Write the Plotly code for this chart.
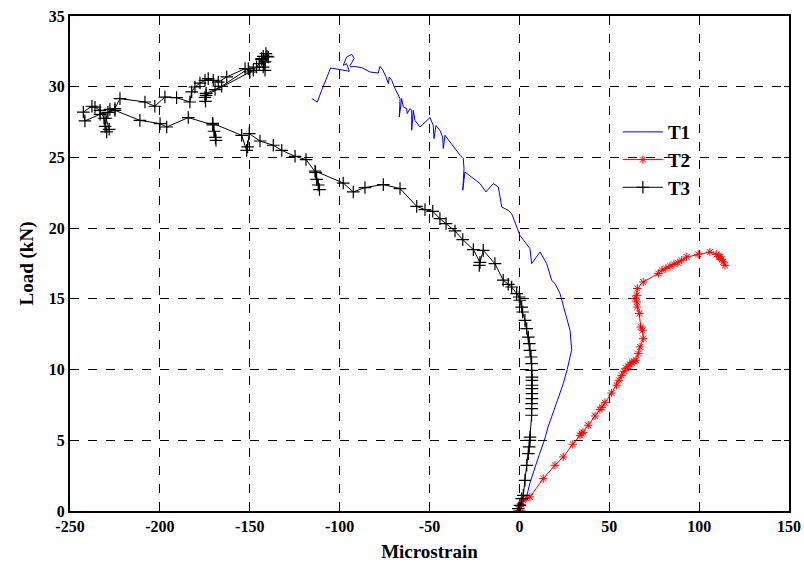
import plotly.graph_objects as go

# T1 (blue line)
t1_x = [0, 4.0, 5.9, 8.3, 11.1, 13.9, 16.1, 18.9, 21.7, 24.4, 26.6, 28.2, 29.1, 28.2, 26.6, 24.4, 22.6, 19.8,
        18.0, 15.2, 11.5, 6.8, 5.9, 0.3, -1.5, -4.3, -6.2, -9.8, -11.7, -14.5, -18.6, -21.9, -30.3, -31.5,
        -30.8, -31.2, -33.0, -39.6, -41.4, -42.3, -42.7, -44.2, -46.4, -47.5, -47.9, -49.7, -55.3, -58.1,
        -59.0, -59.9, -59.9, -60.9, -62.4, -62.7, -64.6, -65.5, -66.8, -66.4, -67.4, -69.2, -71.0, -72.4,
        -72.9, -74.2, -76.1, -77.6, -78.5, -83.1, -87.7, -92.4, -93.9, -94.2, -91.9, -93.3, -96.1, -98.0,
        -96.1, -94.6, -99.8, -105.0, -110.0, -112.4, -115.5]
t1_y = [0, 1, 2, 3, 4, 5, 6, 7, 8, 9, 10, 11, 11.4, 12.77, 13.48, 14.54, 15.37, 16.08,
        16.3, 17.49, 18.31, 17.49, 18.55, 19.49, 20.08, 21.03, 21.26, 21.49, 22.91, 23.15, 22.56, 23.15, 23.97, 22.68,
        24.21, 24.92, 25.15, 26.21, 26.57, 25.62, 26.44, 26.91, 27.26, 26.33, 27.26, 27.82, 27.15, 27.62,
        28.33, 26.92, 28.33, 28.45, 28.10, 28.45, 28.57, 29.16, 27.86, 29.16, 29.39, 29.87, 30.45, 30.69,
        30.22, 30.69, 31.21, 31.44, 30.97, 31.04, 31.35, 31.44, 31.39, 31.51, 31.99, 32.29, 32.10, 31.51,
        31.63, 31.09, 31.21, 31.32, 29.75, 28.92, 29.16]

# T2 (red line with asterisks)
t2_x = [0, -0.6, 0.3, 1.2, 2.2, 3.7, 5.9, 13.3, 19.8, 24.4, 29.7, 33.7, 34.7, 35.4, 38.3, 42.1, 44.8, 45.9,
        47.6, 51.3, 54.1, 55.4, 56.9, 58.2, 59.4, 60.5, 61.5, 62.6, 63.7, 64.9, 66.1, 67.1, 68.9, 68.6,
        67.5, 66.7, 65.6, 65.3, 64.3, 65.3, 65.6, 68.9, 77.3, 79.3, 81.5, 83.8, 86.0, 88.2, 90.3, 93.1,
        99.5, 106.0, 109.8, 111.0, 111.6, 112.7, 113.4, 114.4]
t2_y = [0, 0.17, 0.33, 0.47, 0.76, 0.9, 0.99, 2.29, 3.23, 3.82, 4.72, 5.35, 5.47, 5.56, 6.06, 6.72, 7.17, 7.33,
        7.66, 8.34, 8.89, 9.24, 9.59, 9.88, 10.09, 10.23, 10.37, 10.51, 10.58, 10.66, 11.13, 11.60, 12.19, 12.78,
        13.01, 13.96, 14.42, 14.78, 15.02, 15.25, 15.73, 16.19, 16.79, 17.02, 17.16, 17.30, 17.44, 17.55, 17.73, 17.96,
        18.15, 18.31, 18.15, 17.97, 17.96, 17.80, 17.61, 17.37]

# T3 (black line with plus markers)
t3_x = [0, -0.6, 0.3, 1.3, 2.2, 3.1, 4.1, 5.0, 5.5, 5.9, 5.9, 6.8, 6.8, 6.8, 7.0, 7.0, 7.0, 7.0, 7.0, 7.0,
        6.8, 6.8, 6.5, 5.9, 5.5, 5.0, 4.1, 3.1, 1.8, 1.3, 0.3, -0.1, -1.5, -4.3, -6.2, -9.0, -13.6, -20.1,
        -22.3, -21.9, -25.6, -31.5, -35.8, -40.8, -44.2, -48.2, -52.5, -57.1, -66.4, -75.7, -85.9, -92.4,
        -98.0, -113.7, -112.8, -111.9, -111.2, -113.4, -118.7, -124.8, -132.2, -136.9, -144.3, -150.3,
        -151.2, -151.7, -154.5, -170.6, -169.9, -169.1, -168.8, -170.6, -184.2, -196.2, -199.9, -211.1,
        -225.0, -228.9, -233.3, -241.7, -242.6, -237.8, -236.1, -233.3, -231.1, -230.5, -229.6, -228.2,
        -230.0, -227.8, -225.0, -222.2, -208.3, -202.8, -197.2, -190.7, -183.3, -182.3, -180.5, -177.7,
        -174.9, -173.1, -170.3, -167.5, -162.8, -152.6, -150.8, -165.6, -169.3, -174.3, -174.9, -174.6,
        -174.3, -149.9, -148.0, -146.2, -144.7, -143.4, -142.5, -141.0, -139.7, -141.5, -142.5, -141.5,
        -143.4, -140.4]
t3_y = [0, 0.17, 0.4, 0.88, 1.11, 2.17, 3.23, 4.06, 4.53, 5.0, 5.23, 6.77, 7.24, 7.59, 7.95, 8.30, 8.65, 8.89, 9.24, 9.47,
        9.95, 10.42, 10.89, 11.36, 11.84, 12.30, 12.90, 13.48, 14.07, 14.42, 14.9, 15.13, 15.37, 15.84, 16.03, 16.32, 17.49, 18.43,
        17.37, 17.58, 18.48, 19.19, 19.80, 20.32, 20.67, 21.19, 21.31, 21.54, 22.80, 23.08, 22.87, 22.56,
        23.19, 24.04, 23.45, 23.05, 22.73, 23.95, 24.85, 25.08, 25.50, 25.86, 26.16, 26.68,
        25.75, 25.50, 26.56, 27.41, 26.85, 26.42, 26.21, 27.30, 27.82, 27.15, 27.39, 27.62,
        28.33, 28.19, 28.05, 27.58, 28.21, 28.62, 28.55, 28.33, 27.77, 27.20, 26.80, 26.99,
        27.77, 28.40, 28.45, 29.16, 28.92, 28.62, 29.27, 29.23, 28.92, 29.63, 29.98, 30.26,
        30.45, 30.57, 30.45, 30.33, 30.69, 31.28, 31.28, 30.03, 29.80, 29.53, 29.25, 28.97,
        29.39, 31.04, 31.16, 31.39, 31.63, 31.99, 32.15, 32.34, 32.10, 31.75, 31.39, 31.16,
        31.92, 32.15]

x_ticks = [-250, -200, -150, -100, -50, 0, 50, 100, 150]
y_ticks = [0, 5, 10, 15, 20, 25, 30, 35]

font_family = "Liberation Serif, Times New Roman, serif"

fig = go.Figure()
fig.add_trace(go.Scatter(x=t1_x, y=t1_y, mode="lines", name="<b>T1</b>",
                         line=dict(color="#0000FF", width=1)))
fig.add_trace(go.Scatter(x=t2_x, y=t2_y, mode="lines+markers", name="<b>T2</b>",
                         line=dict(color="#FF0000", width=1),
                         marker=dict(symbol="asterisk-open", size=7, color="#FF0000",
                                     line=dict(color="#FF0000", width=1))))
fig.add_trace(go.Scatter(x=t3_x, y=t3_y, mode="lines+markers", name="<b>T3</b>",
                         line=dict(color="#000000", width=1),
                         marker=dict(symbol="cross-thin-open", size=9, color="#000000",
                                     line=dict(color="#000000", width=1.2))))

axis_common = dict(
    showline=True, linecolor="black", linewidth=2, mirror="ticks",
    ticks="inside", ticklen=5, tickcolor="black", tickwidth=1,
    showgrid=True, gridcolor="black", gridwidth=1, griddash="dash",
    zeroline=False, automargin=False,
    tickfont=dict(family=font_family, size=16, color="black", weight="bold"),
)

fig.update_xaxes(range=[-250, 150], tickvals=x_ticks,
                 ticktext=[f"<b>{v}</b>" for v in x_ticks],
                 title=dict(text="<b>Microstrain</b>", standoff=10,
                            font=dict(family=font_family, size=19, color="black")),
                 **axis_common)
fig.update_yaxes(range=[0, 35], tickvals=y_ticks,
                 ticktext=[f"<b>{v}</b>" for v in y_ticks],
                 title=dict(text="<b>Load (kN)</b>", standoff=10,
                            font=dict(family=font_family, size=19, color="black")),
                 **axis_common)

fig.update_layout(
    width=804, height=567,
    margin=dict(l=70, r=15, t=16, b=56),
    paper_bgcolor="white", plot_bgcolor="white",
    showlegend=True,
    legend=dict(x=0.762, y=0.804, xanchor="left", yanchor="top",
                bgcolor="rgba(0,0,0,0)", borderwidth=0,
                font=dict(family=font_family, size=19, color="black"),
                tracegroupgap=0, itemwidth=40),
)

fig.write_html("out.html")
